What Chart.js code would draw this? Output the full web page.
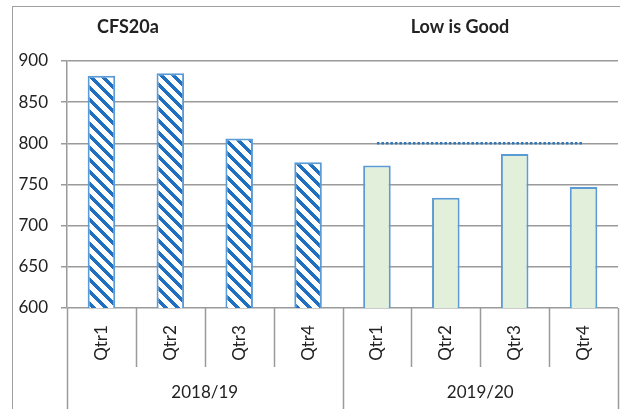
<!DOCTYPE html>
<html>
<head>
<meta charset="utf-8">
<script src="https://cdn.jsdelivr.net/npm/chart.js@4.4.1/dist/chart.umd.min.js"></script>
<style>
  html, body { margin: 0; padding: 0; background: #fff; }
  #wrap { width: 620px; height: 409px; position: relative; }
</style>
</head>
<body>
<div id="wrap"><canvas id="chart"></canvas></div>
<script>
// ── Data ──
const QUARTERS = ['Qtr1', 'Qtr2', 'Qtr3', 'Qtr4'];
const YEARS = ['2018/19', '2019/20'];
const VALUES_1819 = [882, 885, 806, 777];
const VALUES_1920 = [773, 734, 787, 747];
const TARGET_1920 = [800, 800, 800, 800];
const Y_TICKS = [600, 650, 700, 750, 800, 850, 900];

const TITLE_LEFT = 'CFS20a';
const TITLE_RIGHT = 'Low is Good';

const FONT = 'Lato, "Noto Sans", sans-serif';
const GRID = '#9a9a9a';
const TEXT = '#222';

// one flat category list, years outer / quarters inner
const labels = YEARS.flatMap(() => QUARTERS);
const barValues = [...VALUES_1819, ...VALUES_1920];
const targetValues = [...VALUES_1819.map(() => null), ...TARGET_1920];

// Excel-style "wide downward diagonal" hatch, painted pixel by pixel so
// the tile edges don't leave seams.
function hatch() {
  const s = 12, t = 5;
  const c = document.createElement('canvas');
  c.width = s; c.height = s;
  const g = c.getContext('2d');
  const img = g.createImageData(s, s);
  for (let y = 0; y < s; y++) {
    for (let x = 0; x < s; x++) {
      const on = (((x - y) % s) + s) % s < t;
      const p = (y * s + x) * 4;
      img.data[p] = on ? 0x1f : 255;
      img.data[p + 1] = on ? 0x70 : 255;
      img.data[p + 2] = on ? 0xc1 : 255;
      img.data[p + 3] = 255;
    }
  }
  g.putImageData(img, 0, 0);
  return g.createPattern(c, 'repeat');
}
const pattern = hatch();
const barFills = [...VALUES_1819.map(() => pattern), ...VALUES_1920.map(() => '#e2efda')];

// Frame, titles and the two-level category axis
const decor = {
  id: 'decor',
  beforeDraw(chart) {
    const ctx = chart.ctx;
    ctx.save();
    ctx.fillStyle = '#fff';
    ctx.fillRect(0, 0, chart.width, chart.height);
    ctx.strokeStyle = '#a0a0a0';
    ctx.lineWidth = 1;
    ctx.strokeRect(12.5, 6.5, chart.width + 20, chart.height + 20);
    ctx.restore();
  },
  afterDraw(chart) {
    const ctx = chart.ctx;
    const area = chart.chartArea;
    const xs = chart.scales.x;
    const step = (area.right - area.left) / labels.length;
    ctx.save();
    ctx.fillStyle = TEXT;

    // titles
    ctx.font = `bold 18px ${FONT}`;
    ctx.textBaseline = 'middle';
    ctx.textAlign = 'left';
    ctx.fillText(TITLE_LEFT, 97, 27);
    ctx.textAlign = 'center';
    ctx.fillText(TITLE_RIGHT, 460, 27);

    // separators under the axis
    ctx.strokeStyle = GRID;
    ctx.lineWidth = 1.5;
    for (let k = 0; k <= labels.length; k++) {
      const x = Math.round(area.left + k * step) + 0.5;
      const yEnd = k % QUARTERS.length === 0 ? chart.height : 367;
      ctx.beginPath();
      ctx.moveTo(x, area.bottom);
      ctx.lineTo(x, yEnd);
      ctx.stroke();
    }

    // quarter labels, rotated
    ctx.font = `17px ${FONT}`;
    ctx.textAlign = 'center';
    ctx.textBaseline = 'middle';
    labels.forEach((lab, i) => {
      const x = xs.getPixelForValue(i);
      ctx.save();
      ctx.translate(x, 343);
      ctx.rotate(-Math.PI / 2);
      ctx.fillText(lab, 0, 0);
      ctx.restore();
    });

    // year labels
    YEARS.forEach((yr, j) => {
      const x0 = area.left + j * QUARTERS.length * step;
      const x1 = x0 + QUARTERS.length * step;
      ctx.fillText(yr, (x0 + x1) / 2, 393);
    });
    ctx.restore();
  },
};

new Chart(document.getElementById('chart'), {
  data: {
    labels,
    datasets: [
      {
        type: 'line',
        data: targetValues,
        borderColor: '#2e75b6',
        borderWidth: 2.5,
        borderDash: [2.5, 2],
        pointRadius: 0,
        fill: false,
        order: 0,
      },
      {
        type: 'bar',
        data: barValues,
        backgroundColor: barFills,
        borderColor: '#5b9bd5',
        borderWidth: 2,
        borderSkipped: false,
        categoryPercentage: 1,
        barPercentage: 0.4,
        order: 1,
      },
    ],
  },
  options: {
    responsive: true,
    maintainAspectRatio: false,
    animation: false,
    layout: { padding: { top: 61, right: 2, left: 0, bottom: 0 } },
    plugins: {
      legend: { display: false },
      tooltip: { enabled: false },
    },
    scales: {
      x: {
        ticks: { display: false },
        grid: { display: false },
        border: { display: false },
        afterFit: (s) => { s.height = 101; },
      },
      y: {
        min: Y_TICKS[0],
        max: Y_TICKS[Y_TICKS.length - 1],
        afterBuildTicks: (s) => { s.ticks = Y_TICKS.map((v) => ({ value: v })); },
        ticks: { color: TEXT, font: { family: FONT, size: 17 }, padding: 13 },
        grid: { color: GRID, lineWidth: 1.5, tickLength: 6 },
        border: { color: GRID, width: 1.5 },
        afterFit: (s) => { s.width = 67; },
      },
    },
  },
  plugins: [decor],
});
</script>
</body>
</html>
